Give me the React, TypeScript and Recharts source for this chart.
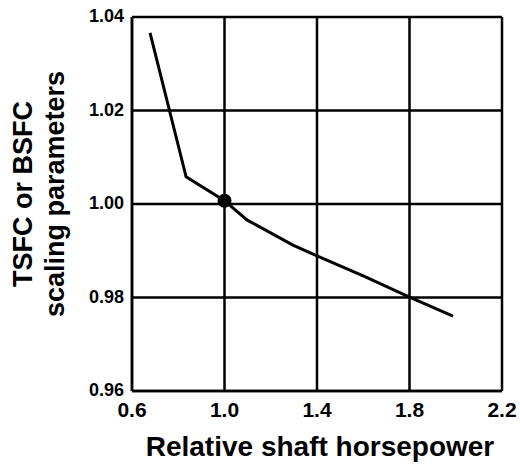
import React from "react";
import { LineChart, Line, XAxis, YAxis, CartesianGrid, ReferenceDot } from "recharts";

const horsepower = [0.678, 0.834, 1.0, 1.097, 1.296, 1.4, 1.6, 1.8, 1.988];
const scaling = [1.0366, 1.0058, 1.0007, 0.9966, 0.9912, 0.9889, 0.9846, 0.9801, 0.976];
const xTicks = [0.6, 1.0, 1.4, 1.8, 2.2];
const yTicks = [0.96, 0.98, 1.0, 1.02, 1.04];
const designPoint = { x: 1.0, y: 1.0007 };

const data = horsepower.map((x, i) => ({ x, y: scaling[i] }));

const FONT = '"Liberation Sans", Arial, Helvetica, sans-serif';

function XTick(props: any) {
  const { x, y, payload } = props;
  return (
    <g transform={`translate(${x},${y})`}>
      <text x={0} y={18} textAnchor="middle" fontFamily={FONT} fontWeight={700} fontSize={21} fill="#000">
        {Number(payload.value).toFixed(1)}
      </text>
    </g>
  );
}

function YTick(props: any) {
  const { x, y, payload } = props;
  return (
    <g transform={`translate(${x},${y})`}>
      <text x={0} y={5} textAnchor="end" fontFamily={FONT} fontWeight={700} fontSize={18} fill="#000">
        {Number(payload.value).toFixed(2)}
      </text>
    </g>
  );
}

function XTitle(props: any) {
  const { x, y, width } = props.viewBox;
  return (
    <text
      x={x + width / 2 + 3}
      y={y + 65}
      textAnchor="middle"
      fontFamily={FONT}
      fontWeight="bold"
      fontSize={28}
      fill="#000"
    >
      Relative shaft horsepower
    </text>
  );
}

function YTitle(props: any) {
  const { y, height } = props.viewBox;
  const cy = y + height / 2 - 10;
  const common = {
    textAnchor: "middle" as const,
    fontFamily: FONT,
    fontWeight: "bold",
    fontSize: 27,
    fill: "#000",
  };
  return (
    <g>
      <text x={32} y={cy} transform={`rotate(-90, 32, ${cy})`} {...common}>
        TSFC or BSFC
      </text>
      <text x={64} y={cy} transform={`rotate(-90, 64, ${cy})`} {...common}>
        scaling parameters
      </text>
    </g>
  );
}

export default function App() {
  return (
    <div style={{ position: "absolute", left: 0, top: 0, background: "#fff" }}>
      <LineChart width={520} height={467} data={data} margin={{ top: 17, right: 18, bottom: 0, left: 0 }}>
        <CartesianGrid stroke="#000" strokeWidth={2.5} />
        <XAxis
          dataKey="x"
          type="number"
          domain={[0.6, 2.2]}
          ticks={xTicks}
          height={76}
          tickLine={false}
          axisLine={{ stroke: "#000", strokeWidth: 2.5 }}
          tick={<XTick />}
          label={{ content: XTitle }}
        />
        <YAxis
          dataKey="y"
          type="number"
          domain={[0.96, 1.04]}
          ticks={yTicks}
          width={132}
          tickLine={false}
          axisLine={{ stroke: "#000", strokeWidth: 2.5 }}
          tick={<YTick />}
          label={{ content: YTitle }}
        />
        <Line
          dataKey="y"
          type="linear"
          stroke="#000"
          strokeWidth={3}
          dot={false}
          isAnimationActive={false}
        />
        <ReferenceDot x={designPoint.x} y={designPoint.y} r={7} fill="#000" stroke="none" />
      </LineChart>
    </div>
  );
}
